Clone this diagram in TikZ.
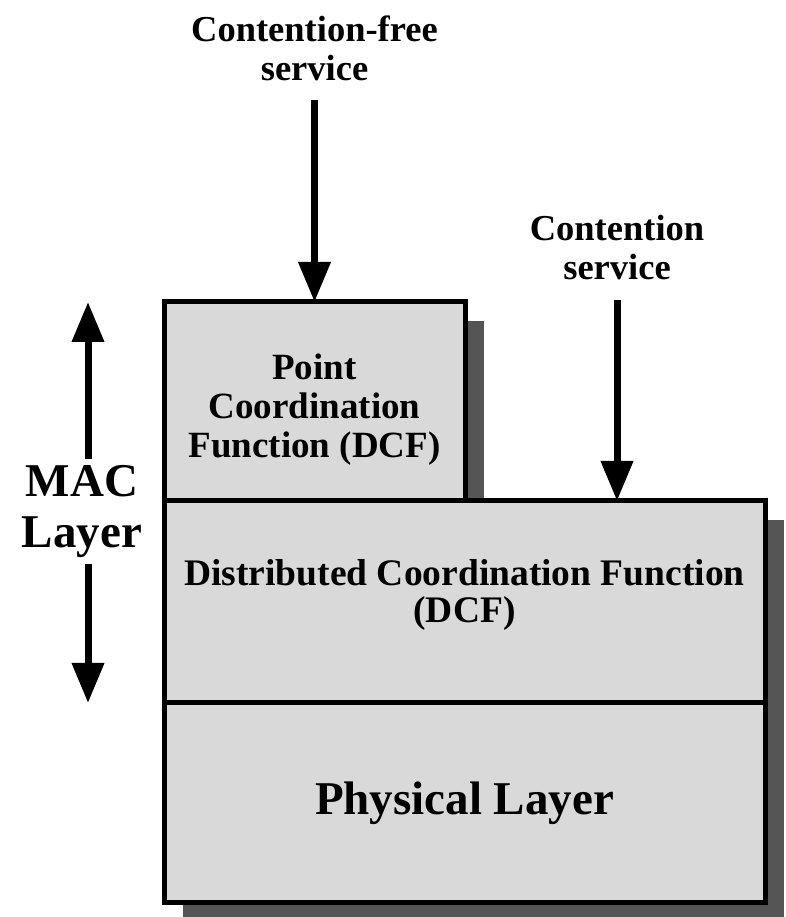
\documentclass[tikz,border=0pt]{standalone}
\usepackage{fontspec}
\setmainfont{Liberation Serif}
\usepackage{xcolor}
\usetikzlibrary{arrows.meta}
\usetikzlibrary{shadows}
\definecolor{boxgray}{RGB}{217,217,217}
\definecolor{shadowgray}{RGB}{85,85,85}
\begin{document}
\begin{tikzpicture}[x=1pt, y=1pt, font=\bfseries,
  layerbox/.style={draw, line width=5pt, fill=boxgray, inner sep=0pt, outer sep=0pt, align=center,
    drop shadow={shadow xshift=19pt, shadow yshift=-19pt, fill=shadowgray, opacity=1}},
  svclabel/.style={inner sep=0pt, align=center, font=\bfseries\fontsize{36.5}{39}\selectfont},
  maclabel/.style={inner xsep=0pt, inner ysep=6pt, align=center, font=\bfseries\fontsize{47}{51}\selectfont},
  svcarrow/.style={line width=7pt, -{Triangle[length=40pt, width=31pt]}}]
\clip (0,0) rectangle (785,917);
\node[layerbox, minimum width=301pt, minimum height=199pt, font=\bfseries\fontsize{37}{39}\selectfont]
  (pcf) at (314.5,515.5) {\rule{0pt}{41pt}Point\\Coordination\\Function (DCF)};
\node[layerbox, anchor=north west, minimum width=601pt, minimum height=202pt, font=\bfseries\fontsize{37.5}{37}\selectfont]
  (dcf) at (pcf.south west) {Distributed Coordination Function\\(DCF)\rule[-23pt]{0pt}{23pt}};
\node[layerbox, anchor=north west, minimum width=601pt, minimum height=200pt, font=\bfseries\fontsize{47}{51}\selectfont]
  (phys) at (dcf.south west) {Physical Layer};
\node[svclabel, anchor=south] (cfree) at (314.5,836) {Contention-free\\service};
\node[svclabel, anchor=south] (cont) at (617,637) {Contention\\service};
\node[maclabel] (mac) at (82,405.5) {MAC\\Layer};
\coordinate (mtop) at ([xshift=6pt]mac.north);
\coordinate (mbot) at ([xshift=6pt]mac.south);
\draw[svcarrow, shorten <=19pt] (cfree.south) -- (cfree.south |- pcf.north);
\draw[svcarrow, shorten <=20pt] (cont.south) -- (cont.south |- dcf.north);
\draw[svcarrow] (mtop) -- (mtop |- pcf.north);
\draw[svcarrow] (mbot) -- (mbot |- phys.north);
\end{tikzpicture}
\end{document}
